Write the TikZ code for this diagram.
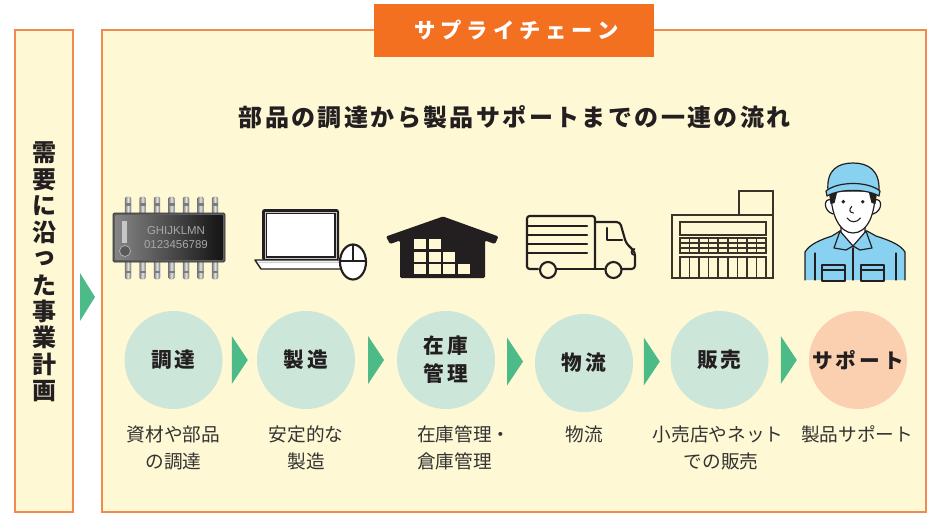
\documentclass[tikz,border=0pt]{standalone}
\usepackage{fontspec}
\setmainfont{Noto Sans CJK JP}
\newfontfamily\chipfont{Liberation Sans}
\usetikzlibrary{calc}

\definecolor{cream}{HTML}{FFF8D4}
\definecolor{frameorange}{HTML}{F08A4E}
\definecolor{headorange}{HTML}{F37021}
\definecolor{flowgreen}{HTML}{4CBB88}
\definecolor{stepgreen}{HTML}{CCE6D9}
\definecolor{steppeach}{HTML}{FBD0B0}
\definecolor{ink}{HTML}{231F20}
\definecolor{txt}{HTML}{333333}
\definecolor{capblue}{HTML}{88D1F0}
\definecolor{storeline}{HTML}{3B3228}
\definecolor{chiprim}{HTML}{5E5E5E}
\definecolor{chipleft}{HTML}{858585}
\definecolor{chipright}{HTML}{141414}
\definecolor{chiptext}{HTML}{A8A8A8}
\definecolor{pinlight}{HTML}{E4E4E4}
\definecolor{pindark}{HTML}{7C7C7C}

\begin{document}
\begin{tikzpicture}[x=0.75pt,y=-0.75pt,
  panel/.style={draw=frameorange, line width=1.1pt, fill=cream, rectangle, inner sep=0pt},
  hdrbox/.style={fill=headorange, rectangle, inner sep=0pt, minimum width=210pt, minimum height=39.75pt},
  hdrtext/.style={inner sep=0pt, text=white, font=\fontsize{16}{16}\selectfont\bfseries\addfontfeatures{LetterSpace=23}},
  titletext/.style={inner sep=0pt, text=ink, font=\fontsize{18}{18}\selectfont\bfseries\addfontfeatures{LetterSpace=10}},
  vchar/.style={inner sep=0pt, text=ink, font=\fontsize{18}{18}\selectfont\bfseries},
  stepcircle/.style={circle, fill=stepgreen, minimum size=73.5pt, inner sep=0pt, text=ink, align=center,
    font=\fontsize{15.5}{21}\selectfont\bfseries\addfontfeatures{LetterSpace=14}},
  note/.style={inner sep=0pt, text=txt, font=\fontsize{14}{20}\selectfont},
  flowtri/.style={fill=flowgreen},
  chippin/.style={left color=pindark, right color=pindark, middle color=pinlight, draw=pindark, line width=0.3pt, rounded corners=1pt},
  iconline/.style={draw=ink, line width=1.6pt, line join=round, line cap=round},
  storestroke/.style={draw=storeline, line width=1.1pt},
  workerline/.style={draw=ink, line width=0.9pt, line join=round, line cap=round}
]
\useasboundingbox (0,0) rectangle (932,514);
\fill[white] (0,0) rectangle (932,514);

% ---- panels ----
\node[panel, minimum width=43.5pt, minimum height=361.5pt] (plan) at (44,271) {};
\node[panel, minimum width=618pt, minimum height=361.5pt] (chain) at (514,271) {};

% ---- header tab and heading ----
\node[hdrbox] (hdr) at (514,30.5) {};
\node[hdrtext] (hdrt) at (516.5,30) {サプライチェーン};
\node[titletext] (ttl) at (514.7,117) {部品の調達から製品サポートまでの一連の流れ};

% ---- vertical caption of the left panel ----
\foreach \ch [count=\i from 0] in {需,要,に,沿,っ,た,事,業,計,画}
  \node[vchar] (v\i) at (44,153+26.4*\i) {\ch};

% arrow from the plan panel into the chain panel
\coordinate (m0) at ($(plan.east |- 0,297)!0.5!(chain.west |- 0,297)$);
\fill[flowtri] ($(m0)+(-7.5,-24)$) -- ($(m0)+(7.5,0)$) -- ($(m0)+(-7.5,24)$) -- cycle;

% ---- step circles ----
\node[stepcircle] (s1) at (173.5,360) {調達};
\node[stepcircle] (s2) at (306,360) {製造};
\node[stepcircle] (s3) at (446,360) {在庫\\管理};
\node[stepcircle] (s4) at (584,363) {物流};
\node[stepcircle] (s5) at (719.5,360) {販売};
\node[stepcircle, fill=steppeach] (s6) at (858,360) {サポート};

\foreach \a/\b in {s1/s2,s2/s3,s3/s4,s4/s5,s5/s6} {
  \coordinate (m-\a) at ($(\a.east)!0.5!(\b.west)$);
  \fill[flowtri] ($(m-\a)+(-8,-24)$) -- ($(m-\a)+(8,0)$) -- ($(m-\a)+(-8,24)$) -- cycle;
}

% ---- descriptions ----
\node[note] (n1a) at (173.5,434.5) {資材や部品};
\node[note] (n1b) at (173.5,461.5) {の調達};
\node[note] (n2a) at (306,434.5) {安定的な};
\node[note] (n2b) at (306,461.5) {製造};
\node[note, anchor=west] (n3a) at (417,434.5) {在庫管理・};
\node[note, anchor=west] (n3b) at (417,461.5) {倉庫管理};
\node[note] (n4a) at (584,434.5) {物流};
\node[note] (n5a) at (718,434.5) {小売店やネット};
\node[note] (n5b) at (721,461.5) {での販売};
\node[note] (n6a) at (857,434.5) {製品サポート};

% ---- icon: integrated circuit ----
\foreach \i in {0,...,6} {
  \pgfmathsetmacro\px{128+14.5*\i}
  \shade[chippin] (\px-3,197) rectangle (\px+3,214);
  \fill[pindark] (\px-3,203) rectangle (\px+3,205.5);
  \shade[chippin] (\px-3,261) rectangle (\px+3,279);
  \fill[pindark] (\px-3,270.5) rectangle (\px+3,273);
}
\filldraw[fill=chiprim, draw=black!80, line width=0.5pt, rounded corners=1pt] (113,213) rectangle (225,262);
\shade[left color=chipleft, right color=chipright] (115.5,215.5) rectangle (222.5,259.5);
\fill[gray!45] (122,221) rectangle (127,243);
\filldraw[fill=black!65, draw=gray!55, line width=0.5pt] (125,251) circle (5.5);
\node[inner sep=0pt, text=chiptext, font=\chipfont\fontsize{8.6}{9}\selectfont] (chipa) at (176,231) {GHIJKLMN};
\node[inner sep=0pt, text=chiptext, font=\chipfont\fontsize{8.6}{9}\selectfont] (chipb) at (176,245) {0123456789};

% ---- icon: laptop with mouse ----
\fill[ink, rounded corners=2pt] (262,209) rectangle (339,260.5);
\fill[gray!45] (264.5,211.5) rectangle (336.5,258.5);
\fill[ink] (265.5,212.5) rectangle (335.5,257.5);
\fill[white] (267,214) rectangle (334,256);
\filldraw[fill=white, draw=ink, line width=1.1pt, line join=round] (255,260) -- (342,260) -- (342,269) -- (261,269) -- cycle;
\fill[gray!35] (258,261.5) -- (341,261.5) -- (341,263) -- (259,263) -- cycle;
\filldraw[fill=white, draw=ink, line width=1.6pt] (353,262) ellipse [x radius=13, y radius=17.5];
\draw[ink, line width=1.3pt] (353,244.5) -- (353,261) (340,261) -- (366,261);

% ---- icon: warehouse ----
\fill[ink, rounded corners=1pt] (443,216.5) -- (498.5,236.5) -- (495,244) -- (485,240.5) -- (485,278)
  -- (400,278) -- (400,240.5) -- (390,244) -- (386,236.5) -- cycle;
\foreach \r/\n in {0/1,1/2,2/3}
  \foreach \c in {0,...,\n}
    \fill[cream] (414+14.7*\c,239+12.5*\r) rectangle ++(12,10);

% ---- icon: truck ----
\draw[iconline, rounded corners=2pt] (538,269) -- (527,269) -- (527,216) -- (595,216) -- (595,269);
\draw[iconline] (557,269) -- (604,269);
\draw[iconline, rounded corners=2.5pt] (622,269) -- (635,269) -- (635,252) -- (626,243) -- (620,222) -- (595,222);
\draw[iconline] (607,228) -- (607,240) -- (622,240);
\draw[iconline, line width=1.3pt] (634.5,255) arc[start angle=90, end angle=270, radius=3];
\foreach \yy in {226,235.3,244.3,253.3}
  \draw[iconline] (527,\yy) -- (587,\yy);
\draw[iconline] (548,270) circle (8);
\draw[iconline] (613.5,270) circle (8);

% ---- icon: store ----
\draw[storestroke] (739,191) rectangle (773,215);
\draw[storestroke] (672,215) rectangle (773,278);
\draw[storestroke] (680,222) rectangle (766,235);
\draw[storestroke] (680,238) rectangle (766,253);
\draw[storestroke] (680,243) -- (766,243) (680,248) -- (766,248);
\draw[storestroke] (680,257) rectangle (766,278);
\foreach \k in {1,...,8} {
  \draw[storestroke] (680+86/9*\k,238) -- (680+86/9*\k,253);
  \draw[storestroke] (680+86/9*\k,257) -- (680+86/9*\k,278);
}

% ---- icon: support staff ----
\filldraw[fill=capblue, workerline] (805,280) -- (805,252) .. controls (810,244) and (820,240) .. (832,236)
  -- (840,231) -- (867,231) -- (876,236) .. controls (888,240) and (900,244) .. (905,252) -- (905,280);
\filldraw[fill=white, workerline] (841,218) -- (841,234) -- (853,247) -- (865,234) -- (865,218);
\filldraw[fill=capblue, workerline] (840,231) -- (834,248) -- (846,250) -- (853,246) -- cycle;
\filldraw[fill=capblue, workerline] (866,231) -- (872,248) -- (860,250) -- (853,246) -- cycle;
\draw[workerline] (853,248) -- (853,280);
\draw[workerline] (815,253) -- (815,280) (896,253) -- (896,280);
\draw[workerline] (822,265) rectangle (845,281) (822,270) -- (845,270);
\draw[workerline] (861,265) rectangle (884,281) (861,270) -- (884,270);
% head
\filldraw[fill=white, workerline] (832,200) .. controls (823,197) and (823,211) .. (833,214);
\filldraw[fill=white, workerline] (874,200) .. controls (883,197) and (883,211) .. (873,214);
\filldraw[fill=white, workerline] (831,188) .. controls (830,215) and (840,233) .. (853,233)
  .. controls (867,233) and (876,215) .. (875,188) -- cycle;
\fill[ink] (829,193) -- (837,193) -- (834.5,203) -- (830.5,204) -- cycle;
\fill[ink] (877,193) -- (869,193) -- (871.5,203) -- (875.5,204) -- cycle;
% cap
\filldraw[fill=capblue, workerline] (828,191) .. controls (826,169) and (839,163) .. (853,163)
  .. controls (868,163) and (880,170) .. (879,191) -- cycle;
\filldraw[fill=capblue, workerline] (826,191) .. controls (838,181) and (868,181) .. (880,191)
  -- (879,196) .. controls (866,188.5) and (840,188.5) .. (827,196) -- cycle;
% face
\fill[ink] (843.3,201.7) circle (1.9);
\fill[ink] (862.7,201.7) circle (1.9);
\draw[workerline, line width=0.8pt] (851.7,206.5) .. controls (849,209.5) and (849,212.5) .. (853.5,213);
\draw[workerline, line width=0.8pt] (847,218) .. controls (850,223) and (857,223) .. (860.5,218);
\end{tikzpicture}
\end{document}
